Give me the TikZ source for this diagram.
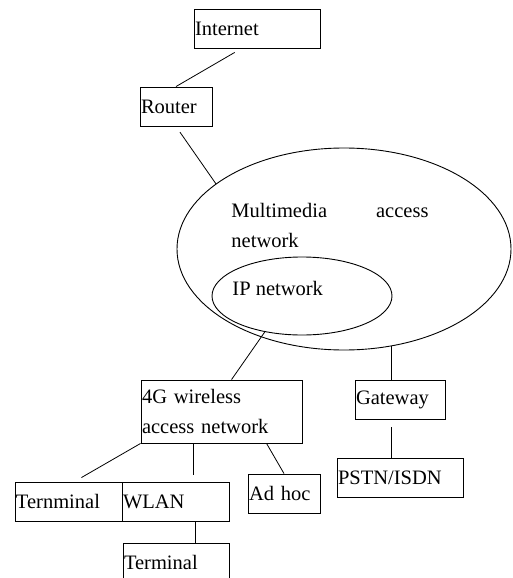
\documentclass[tikz,border=0pt]{standalone}
\usepackage{fontspec}
\setmainfont{Liberation Serif}
\usetikzlibrary{shapes.geometric, calc}
\tikzstyle{box} = [rectangle, draw=black, inner sep=1pt, align=left, minimum height=39pt]
\tikzstyle{net} = [ellipse, draw=black, inner sep=0pt]
\tikzstyle{nettext} = [inner sep=0pt]
\tikzstyle{link} = [line width=0.8pt, -]

\begin{document}
\begin{tikzpicture}[x=1pt, y=-1pt, line width=0.9pt, font=\fontsize{20.5}{30}\selectfont]
		\clip (0,0) rectangle (512,578);
		\node (inet) [box, text width=124pt] at (257,28.5) {Internet};
		\node (router) [box, text width=70pt] at (176,106.5) {Router};
		\node (mm) [net, minimum width=334pt, minimum height=202pt] at (344,249) {};
		\node (ip) [net, minimum width=180pt, minimum height=78pt] at (302,296) {};
		\node (mmtext) [nettext, text width=197pt, align=justify, anchor=north west] at (231,203) {Multimedia access \mbox{network}};
		\node (iptext) [nettext, anchor=base west] at (232,295) {IP network};
		\node (g4) [box, text width=159pt, minimum height=63pt] at (221.5,411.5) {4G wireless\\access network};
		\node (gw) [box, text width=88pt] at (400,399.5) {Gateway};
		\node (pstn) [box, text width=124pt] at (400,477.5) {PSTN/ISDN};
		\node (term) [box, text width=105pt] at (68.5,501.5) {Ternminal};
		\node (wlan) [box, text width=105pt, right of=term, node distance=107pt] {WLAN};
		\node (adhoc) [box, text width=70pt] at (284,493.5) {Ad hoc};
		\node (term2) [box, text width=104pt] at (176,562.5) {Terminal};

		\draw [link, shorten <=8pt] ($(inet.south west)+(48,0)$) -- (router.north);
		\draw [link, shorten <=7pt] (router.south) -- (mm.153);
		\draw [link] (ip.224) -- ($(g4.north west)+(91,0)$);
		\draw [link] ($(gw.north)+(-9,0)$) coordinate (gwtop) -- (gwtop |- mm.-64);
		\draw [link, shorten >=8pt] ($(pstn.north)+(-9,0)$) coordinate (pstntop) -- (pstntop |- gw.south);
		\draw [link, shorten >=8pt] (g4.south west) -- ($(term.north)+(6,0)$);
		\draw [link, shorten >=7pt] ($(g4.south west)+(53,0)$) coordinate (g4wl) -- (g4wl |- wlan.north);
		\draw [link] ($(g4.south west)+(126,0)$) -- (adhoc.north);
		\draw [link] ($(wlan.south)+(19.5,0)$) coordinate (wlbot) -- (wlbot |- term2.north);
	  \end{tikzpicture}
\end{document}
